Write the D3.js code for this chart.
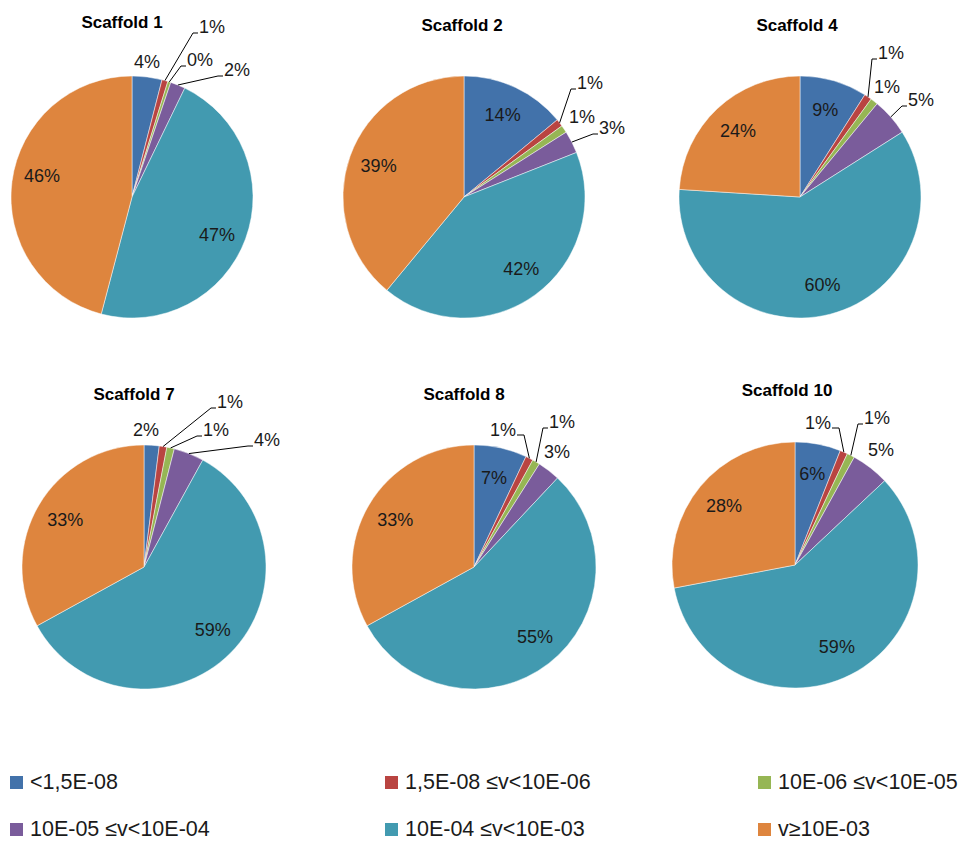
<!DOCTYPE html>
<html><head><meta charset="utf-8">
<script src="https://cdn.jsdelivr.net/npm/d3@7"></script>
<style>
html,body{margin:0;padding:0;background:#fff;}
svg{display:block;}
</style>
</head><body>
<svg id="chart" width="972" height="843"></svg>
<script>
// ---- data ----
const categories = ["<1,5E-08", "1,5E-08 \u2264v<10E-06", "10E-06 \u2264v<10E-05", "10E-05 \u2264v<10E-04", "10E-04 \u2264v<10E-03", "v\u226510E-03"];
const scaffoldNames = ["Scaffold 1", "Scaffold 2", "Scaffold 4", "Scaffold 7", "Scaffold 8", "Scaffold 10"];
const scaffold1 = [4, 0.8, 0.4, 2, 47, 46];
const scaffold2 = [14, 1, 1, 3, 42, 39];
const scaffold4 = [9, 1, 1, 5, 60, 24];
const scaffold7 = [2, 1, 1, 4, 59, 33];
const scaffold8 = [7, 1, 1, 3, 55, 33];
const scaffold10 = [6, 1, 1, 5, 59, 28];
const seriesValues = [scaffold1, scaffold2, scaffold4, scaffold7, scaffold8, scaffold10];

// ---- layout / style ----
const colors = ["#4272AA", "#B94441", "#96B654", "#7A5C9B", "#429AB0", "#DE853E"];
const pieLayout = [
  {cx:132, cy:197, r:121, tx:122, ty:28},
  {cx:464, cy:197, r:121, tx:462, ty:31},
  {cx:800, cy:197, r:121, tx:797, ty:31},
  {cx:144, cy:567, r:122, tx:134, ty:400},
  {cx:474, cy:567, r:122, tx:464, ty:400},
  {cx:795, cy:565, r:123, tx:787, ty:396}
];
// label placement per slice:
//  null            = inside, at centroid
//  {n:[dx,dy]}     = inside, centroid nudged
//  [dx, dy, leader] = outside at offset from centre; leader 0 none, 1 line to label's left, -1 line to label's right
const labelLayout = [
  [[15,-135,0],[80,-170,1],[68,-137,1],[105,-127,1],{n:[0,7]},{n:[0,-9]}],
  [null,[126,-114,1],[118,-80,0],[148,-69,1],{n:[4,-1]},null],
  [null,[91,-144,1],[87,-110,0],[121,-97,1],null,null],
  [[2,-137,0],[86,-165,1],[72,-137,1],[123,-127,1],{n:[4,-2]},null],
  [null,[29,-137,-1],[88,-145,1],[83,-115,0],{n:[5,-2]},null],
  [null,[23,-142,-1],[82,-147,1],[86,-115,0],null,null]
];

const svg = d3.select("#chart");
const color = d3.scaleOrdinal().domain(categories).range(colors);
const pie = d3.pie().sort(null).value(d => d.v);
const fmt = d3.format(".0%");
const FONT = "'Liberation Sans', Arial, sans-serif";

seriesValues.forEach((vals, i) => {
  const L = pieLayout[i];
  const total = d3.sum(vals);
  const data = vals.map((v, j) => ({cat: categories[j], v, j}));
  const arcs = pie(data);
  const arc = d3.arc().innerRadius(0).outerRadius(L.r);
  const labelArc = d3.arc().innerRadius(L.r * 0.75).outerRadius(L.r * 0.75);
  const edgeArc = d3.arc().innerRadius(L.r).outerRadius(L.r);

  svg.append("text")
    .attr("x", L.tx).attr("y", L.ty)
    .attr("text-anchor", "middle")
    .attr("font-family", FONT).attr("font-weight", "bold").attr("font-size", 17)
    .attr("fill", "#000")
    .text(scaffoldNames[i]);

  const g = svg.append("g").attr("transform", `translate(${L.cx},${L.cy})`);
  g.selectAll("path.slice").data(arcs).join("path")
    .attr("class", "slice")
    .attr("d", arc)
    .attr("fill", d => color(d.data.cat))
    .attr("stroke", "#ffffff").attr("stroke-opacity", 0.6).attr("stroke-width", 0.8);

  arcs.forEach((d, j) => {
    const spec = labelLayout[i][j];
    const txt = fmt(d.data.v / total);
    let x, y, outside = false;
    if (!spec) { [x, y] = labelArc.centroid(d); }
    else if (spec.n) { const c = labelArc.centroid(d); x = c[0] + spec.n[0]; y = c[1] + spec.n[1]; }
    else { x = spec[0]; y = spec[1]; outside = true; }
    const t = g.append("text")
      .attr("x", x).attr("y", y)
      .attr("text-anchor", "middle").attr("dominant-baseline", "central")
      .attr("font-family", FONT).attr("font-size", 18)
      .attr("fill", "#1a1a1a")
      .text(txt);
    if (outside && spec[2] !== 0) {
      const w = t.node().getComputedTextLength();
      const e = edgeArc.centroid(d);
      let pts;
      if (spec[2] === 1) {
        const lx = x - w / 2;
        pts = [e, [lx - 6, y + 6], [lx - 1, y + 6]];
      } else {
        const rx = x + w / 2;
        pts = [[rx + 1, y + 5], [rx + 8, y + 5], e];
      }
      g.append("path")
        .attr("d", d3.line()(pts))
        .attr("fill", "none").attr("stroke", "#000").attr("stroke-width", 1);
    }
  });
});

// ---- legend ----
const legendX = d3.scaleOrdinal().domain([0,1,2]).range([10, 385, 758]);
const legendY = d3.scaleOrdinal().domain([0,1]).range([782, 829]);
const lg = svg.append("g");
categories.forEach((c, k) => {
  const col = k % 3, row = Math.floor(k / 3);
  const x = legendX(col), y = legendY(row);
  lg.append("rect").attr("x", x).attr("y", y - 6).attr("width", 13).attr("height", 13).attr("fill", color(c));
  lg.append("text").attr("x", x + 20).attr("y", y)
    .attr("dominant-baseline", "central")
    .attr("font-family", FONT).attr("font-size", 21.5).attr("fill", "#1a1a1a")
    .text(c);
});
</script>
</body></html>
